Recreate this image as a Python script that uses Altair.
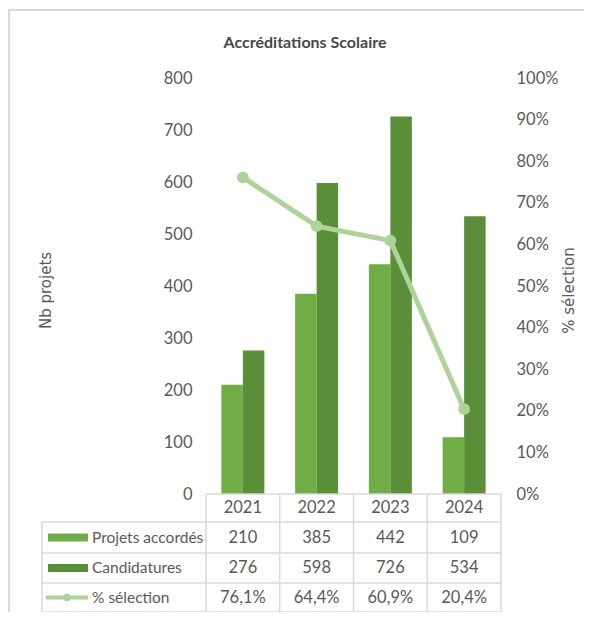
import altair as alt
import pandas as pd

# ---- data ----
years = ["2021", "2022", "2023", "2024"]
accordes = [210, 385, 442, 109]
candidatures = [276, 598, 726, 534]
selection = [0.761, 0.644, 0.609, 0.204]
series_names = ["Projets accordés", "Candidatures", "% sélection"]
chart_title = "Accréditations Scolaire"
left_title = "Nb projets"
right_title = "% sélection"

# ---- layout / style ----
W, H = 295, 416
PAD = {"left": 198, "top": 70, "right": 83, "bottom": 118}
LIGHT, DARK, LINEC = "#70AD47", "#5A8E38", "#AED39A"
GRIDC, TXT, TITLEC = "#D9D9D9", "#595959", "#484848"
FONT = "Lato, sans-serif"
FS = 16.5
FS_LBL = 15.5
ROW_TOP = [416, 444, 475, 505, 534]      # table horizontal lines (px, plot-relative)
ROW_MID = [459.5, 490, 519.5]            # table data rows
HDR_MID = 430
TBL_LEFT = -164

bars_df = pd.DataFrame({
    "year": years * 2,
    "series": [series_names[0]] * 4 + [series_names[1]] * 4,
    "value": accordes + candidatures,
})
line_df = pd.DataFrame({"year": years, "pct": selection})
table_rows = [
    [str(v) for v in accordes],
    [str(v) for v in candidatures],
    [f"{v*100:.1f}%".replace(".", ",") for v in selection],
]
one = pd.DataFrame({"k": [0]})

xscale = alt.Scale(type="band", domain=years, paddingInner=0, paddingOuter=0)
X = alt.X("year:N", scale=xscale, axis=None)

bars = alt.Chart(bars_df).mark_bar().encode(
    x=X,
    xOffset=alt.XOffset("series:N", sort=series_names[:2],
                        scale=alt.Scale(domain=series_names[:2], paddingInner=0, paddingOuter=0.715)),
    y=alt.Y("value:Q", scale=alt.Scale(domain=[0, 800]),
            axis=alt.Axis(values=list(range(0, 801, 100)), title=left_title, grid=False,
                          ticks=False, domain=False, labelPadding=14,
                          titleX=-161, titleY=212, titleAngle=270, titleAlign="center",
                          titleBaseline="middle")),
    color=alt.Color("series:N", scale=alt.Scale(domain=series_names[:2], range=[LIGHT, DARK]), legend=None),
)

line = alt.Chart(line_df).mark_line(
    color=LINEC, strokeWidth=5,
    point=alt.OverlayMarkDef(color=LINEC, size=140, filled=True, opacity=1),
).encode(
    x=X,
    y=alt.Y("pct:Q", scale=alt.Scale(domain=[0, 1]),
            axis=alt.Axis(orient="right", format=".0%", values=[i / 10 for i in range(11)],
                          title=right_title, grid=False, ticks=False, domain=False, labelPadding=15,
                          titleX=67, titleY=212, titleAngle=270, titleAlign="center",
                          titleBaseline="middle")),
)

txt_kw = dict(font=FONT, fontSize=FS, color=TXT, baseline="middle")

header = alt.Chart(line_df).mark_text(**txt_kw).encode(x=X, y=alt.value(HDR_MID), text="year:N")

row_layers = []
for i, vals in enumerate(table_rows):
    df = pd.DataFrame({"year": years, "label": vals})
    row_layers.append(alt.Chart(df).mark_text(**txt_kw).encode(x=X, y=alt.value(ROW_MID[i]), text="label:N"))

# table lines
vlines = alt.Chart(line_df).mark_rule(color=GRIDC, strokeWidth=1.5).encode(
    x=alt.X("year:N", scale=xscale, axis=None, bandPosition=0),
    y=alt.value(ROW_TOP[0]), y2=alt.value(ROW_TOP[-1]))
vlast = alt.Chart(line_df.tail(1)).mark_rule(color=GRIDC, strokeWidth=1.5).encode(
    x=alt.X("year:N", scale=xscale, axis=None, bandPosition=1),
    y=alt.value(ROW_TOP[0]), y2=alt.value(ROW_TOP[-1]))
hlines = [alt.Chart(one).mark_rule(color=GRIDC, strokeWidth=1.5).encode(
    x=alt.value(0), x2=alt.value(W), y=alt.value(ROW_TOP[0]))]
for yy in ROW_TOP[1:]:
    hlines.append(alt.Chart(one).mark_rule(color=GRIDC, strokeWidth=1.5).encode(
        x=alt.value(TBL_LEFT), x2=alt.value(W), y=alt.value(yy)))
lborder = alt.Chart(one).mark_rule(color=GRIDC, strokeWidth=1.5).encode(
    x=alt.value(TBL_LEFT), y=alt.value(ROW_TOP[1]), y2=alt.value(ROW_TOP[-1]))

# legend keys inside table
sw1 = alt.Chart(one).mark_rect(color=LIGHT).encode(
    x=alt.value(-158), x2=alt.value(-118), y=alt.value(ROW_MID[0] - 4), y2=alt.value(ROW_MID[0] + 4))
sw2 = alt.Chart(one).mark_rect(color=DARK).encode(
    x=alt.value(-158), x2=alt.value(-118), y=alt.value(ROW_MID[1] - 4), y2=alt.value(ROW_MID[1] + 4))
sw3 = alt.Chart(one).mark_rule(color=LINEC, strokeWidth=4).encode(
    x=alt.value(-160), x2=alt.value(-118), y=alt.value(ROW_MID[2]))
sw3p = alt.Chart(one).mark_point(color=LINEC, filled=True, opacity=1, size=55).encode(
    x=alt.value(-139), y=alt.value(ROW_MID[2]))
lbl_df = pd.DataFrame({"name": series_names, "ry": ROW_MID})
labels = alt.Chart(lbl_df).mark_text(font=FONT, fontSize=FS_LBL, color=TXT, baseline="middle", align="left").encode(
    x=alt.value(-114), y=alt.Y("ry:Q", scale=None), text="name:N")

title = alt.Chart(pd.DataFrame({"t": [chart_title]})).mark_text(
    font=FONT, fontSize=16, fontWeight="bold", color=TITLEC, baseline="middle").encode(
    x=alt.value(99), y=alt.value(-35), text="t:N")

# outer frame (only left and top edges fall inside the drawing)
frame = alt.Chart(one).mark_rect(fill="transparent", stroke=GRIDC, strokeWidth=2).encode(
    x=alt.value(-197), x2=alt.value(420), y=alt.value(-68), y2=alt.value(620))

main = alt.layer(bars, line).resolve_scale(y="independent")

chart = alt.layer(
    frame, main, vlines, vlast, *hlines, lborder, header, *row_layers,
    sw1, sw2, sw3, sw3p, labels, title,
).properties(
    width=W, height=H, padding=PAD, autosize=alt.AutoSizeParams(type="none"),
).configure_view(stroke=None).configure_axis(
    labelFont=FONT, labelFontSize=FS, labelColor=TXT,
    titleFont="DejaVu Sans", titleFontSize=15, titleFontWeight="normal", titleColor=TXT,
)

chart.save("out.html", embed_options={"renderer": "svg", "actions": False})
